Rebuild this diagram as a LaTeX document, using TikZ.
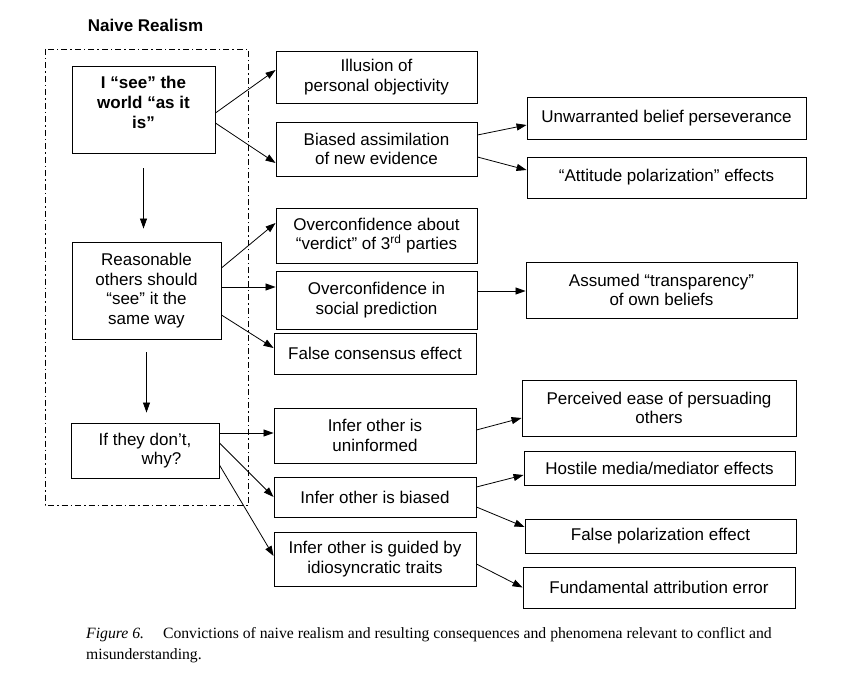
\documentclass[tikz,border=0pt]{standalone}
\usepackage{fontspec}
\setmainfont{Liberation Sans}
\newfontfamily\capfont{Liberation Serif}
\usetikzlibrary{arrows.meta}

\tikzset{
  box/.style={draw, line width=0.9pt, inner sep=0pt, align=center,
    font=\fontsize{17}{19.5}\selectfont},
  arr/.style={-{Triangle[length=10pt,width=7pt]}, line width=0.8pt},
}

\begin{document}
\begin{tikzpicture}[x=1pt,y=-1pt]
  \useasboundingbox (0,0) rectangle (853,676);
  \node[font=\bfseries\fontsize{17}{20}\selectfont] (title) at (145.5,25) {Naive Realism};
  \draw[line width=0.8pt,dash pattern=on 6pt off 3pt on 1.5pt off 3pt] (45,49) rectangle (248,505);

  % convictions
  \node[box,minimum width=143,minimum height=87,font=\bfseries\fontsize{17}{20}\selectfont] (see) at (143.5,109.5) {I “see” the\\world “as it\\is”\\[-6pt]\phantom{x}};
  \node[box,minimum width=149,minimum height=97] (others) at (146.5,290.5) {Reasonable\\others should\\“see” it the\\same way};
  \node[box,minimum width=148,minimum height=55,align=right] (why) at (145,450.5) {If they don’t,\\why?\hspace*{10pt}};

  % consequences
  \node[box,minimum width=201,minimum height=52] (illusion) at (376.5,77) {Illusion of\\personal objectivity};
  \node[box,minimum width=201,minimum height=54] (assim) at (376.5,149) {Biased assimilation\\of new evidence};
  \node[box,minimum width=201,minimum height=55] (verdict) at (376.5,235.5) {Overconfidence about\\“verdict” of 3\textsuperscript{rd} parties};
  \node[box,minimum width=201,minimum height=58] (predict) at (376.5,300) {Overconfidence in\\social prediction};
  \node[box,minimum width=202,minimum height=41] (consensus) at (375,353.5) {False consensus effect};
  \node[box,minimum width=202,minimum height=55] (uninf) at (375,435.5) {Infer other is\\uninformed};
  \node[box,minimum width=202,minimum height=40] (biased) at (375,497) {Infer other is biased};
  \node[box,minimum width=202,minimum height=54] (traits) at (375,559) {Infer other is guided by\\idiosyncratic traits};

  % phenomena
  \node[box,minimum width=279,minimum height=42] (persev) at (666.5,118) {Unwarranted belief perseverance};
  \node[box,minimum width=279,minimum height=41] (attpol) at (666.5,177.5) {“Attitude polarization” effects};
  \node[box,minimum width=271,minimum height=56] (transp) at (661.5,290) {Assumed “transparency”\\of own beliefs};
  \node[box,minimum width=274,minimum height=56] (persuade) at (659,408) {Perceived ease of persuading\\others};
  \node[box,minimum width=271,minimum height=34] (hostile) at (659.5,468) {Hostile media/mediator effects};
  \node[box,minimum width=271,minimum height=34] (falsepol) at (660.5,536) {False polarization effect};
  \node[box,minimum width=272,minimum height=41] (fae) at (659,587.5) {Fundamental attribution error};

  \draw[arr,shorten <=15pt,shorten >=13pt] (see.south) -- (see.south |- others.north);
  \draw[arr,shorten <=13pt,shorten >=10pt] (others.south) -- (others.south |- why.north);

  \draw[arr] ([yshift=-3.5pt]see.east) -- ([yshift=7pt]illusion.west);
  \draw[arr] ([yshift=-13.5pt]see.east) -- ([yshift=-14pt]assim.west);
  \draw[arr] ([yshift=14pt]assim.east) -- ([yshift=-7pt]persev.west);
  \draw[arr] ([yshift=-8pt]assim.east) -- ([yshift=7.5pt]attpol.west);

  \draw[arr] ([yshift=22.5pt]others.east) -- ([yshift=12.5pt]verdict.west);
  \draw[arr] ([yshift=3.5pt]others.east) -- ([yshift=13pt]predict.west);
  \draw[arr] ([yshift=-24.5pt]others.east) -- ([yshift=5.5pt]consensus.west);
  \draw[arr] ([yshift=9pt]predict.east) -- ([yshift=-1pt]transp.west);

  \draw[arr] ([yshift=17.5pt]why.east) -- ([yshift=2.5pt]uninf.west);
  \draw[arr] ([yshift=7.5pt]why.east) -- (biased.west);
  \draw[arr] ([yshift=-14.5pt]why.east) -- ([yshift=3pt]traits.west);
  \draw[arr] ([yshift=5.5pt]uninf.east) -- ([yshift=-10pt]persuade.west);
  \draw[arr] ([yshift=10pt]biased.east) -- ([yshift=-7pt]hostile.west);
  \draw[arr] ([yshift=-10pt]biased.east) -- ([yshift=9pt]falsepol.west);
  \draw[arr] ([yshift=-5pt]traits.east) -- (fae.west);

  \node[anchor=north west,align=left,inner sep=0pt,font=\capfont\fontsize{15.7}{21}\selectfont] (caption) at (86,627)
    {\textit{Figure 6.}\hspace{19pt}Convictions of naive realism and resulting consequences and phenomena relevant to conflict and\\misunderstanding.};
\end{tikzpicture}
\end{document}
